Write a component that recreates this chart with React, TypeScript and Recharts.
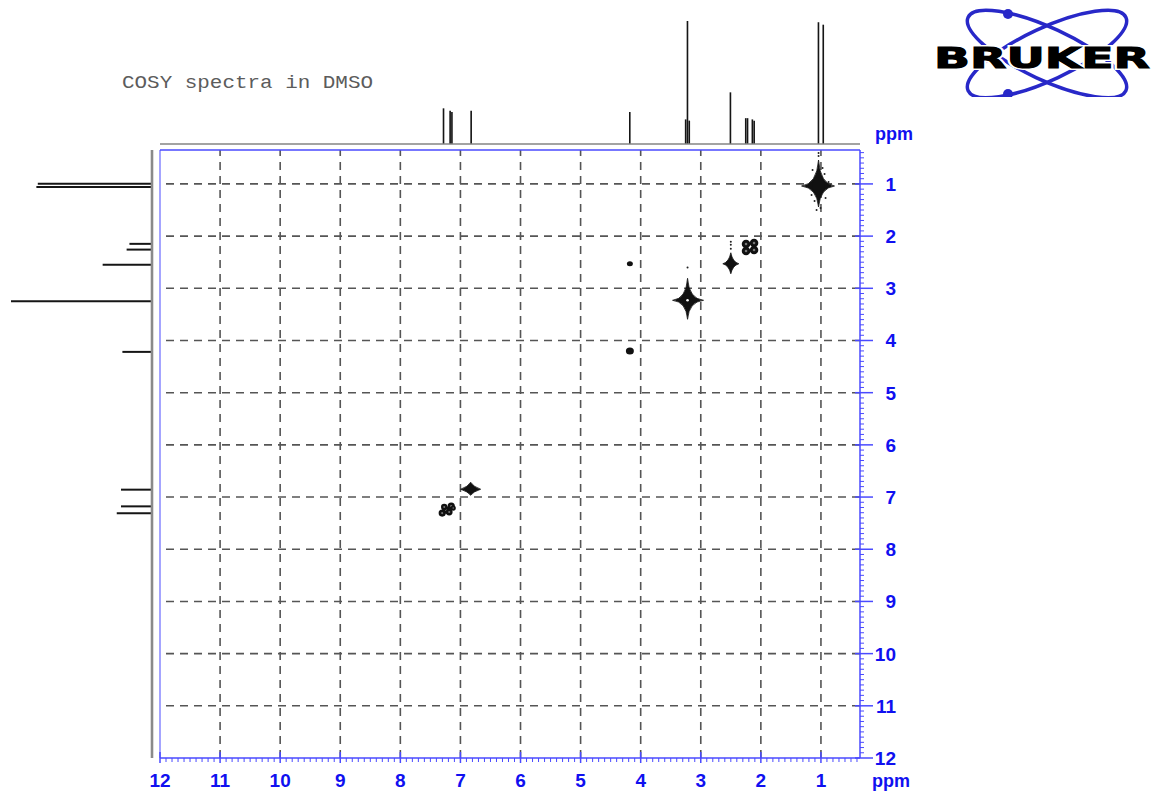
import React from "react";
import {
  ScatterChart,
  Scatter,
  BarChart,
  Bar,
  XAxis,
  YAxis,
  ReferenceLine,
} from "recharts";

// F2 (horizontal) projection: shift in ppm, relative height
const f2Projection = [
  { ppm: 7.28, intensity: 29 },
  { ppm: 7.17, intensity: 27 },
  { ppm: 7.14, intensity: 26 },
  { ppm: 6.82, intensity: 27 },
  { ppm: 4.18, intensity: 26 },
  { ppm: 3.25, intensity: 20 },
  { ppm: 3.22, intensity: 100 },
  { ppm: 3.19, intensity: 19 },
  { ppm: 2.505, intensity: 42 },
  { ppm: 2.25, intensity: 21 },
  { ppm: 2.22, intensity: 21 },
  { ppm: 2.14, intensity: 20 },
  { ppm: 2.11, intensity: 19 },
  { ppm: 1.04, intensity: 99 },
  { ppm: 0.96, intensity: 97 },
];

// F1 (vertical) projection
const f1Projection = [
  { ppm: 0.99, intensity: 81 },
  { ppm: 1.05, intensity: 82 },
  { ppm: 2.14, intensity: 16 },
  { ppm: 2.25, intensity: 18 },
  { ppm: 2.54, intensity: 35 },
  { ppm: 3.24, intensity: 100 },
  { ppm: 4.21, intensity: 21 },
  { ppm: 6.85, intensity: 22 },
  { ppm: 7.17, intensity: 22 },
  { ppm: 7.3, intensity: 25 },
];

// 2D correlation peaks (F2, F1 in ppm)
const crossPeaks = [
  { id: "ch3", f2: 1.04, f1: 1.04 },
  { id: "ch2", f2: 2.18, f1: 2.21 },
  { id: "dmso", f2: 2.5, f1: 2.53 },
  { id: "water", f2: 3.22, f1: 3.23 },
  { id: "cross", f2: 4.18, f1: 2.53 },
  { id: "oh", f2: 4.18, f1: 4.2 },
  { id: "speck", f2: 3.22, f1: 2.6 },
  { id: "ar1", f2: 6.83, f1: 6.85 },
  { id: "ar2", f2: 7.22, f1: 7.23 },
];

const ppmLabels = [1, 2, 3, 4, 5, 6, 7, 8, 9, 10, 11, 12];
const gridPpm = [1, 2, 3, 4, 5, 6, 7, 8, 9, 10, 11];

const DOMAIN: [number, number] = [0.35, 12];
// 0.1 ppm scale marks
const scaleTicks = Array.from({ length: 117 }, (_, i) => (i + 4) / 10);

const AXIS_BLUE = "#4a4aff";
const LABEL_BLUE = "#1010f0";
const GRID = "#555";
const SANS = "'Liberation Sans', Arial, sans-serif";

const isMajor = (v: number) => Math.abs(v - Math.round(v)) < 1e-6 && ppmLabels.includes(Math.round(v));

const BottomTick = ({ x, y, payload }: any) => {
  const v = payload.value;
  if (!isMajor(v)) {
    return <line x1={x} y1={y} x2={x} y2={y + 4} stroke={AXIS_BLUE} strokeWidth={1} />;
  }
  return (
    <g>
      <line x1={x} y1={y - 6} x2={x} y2={y + 5} stroke={AXIS_BLUE} strokeWidth={1.5} />
      <text x={x} y={y + 29} textAnchor="middle" fill={LABEL_BLUE} fontFamily={SANS} fontWeight="bold" fontSize={19}>
        {Math.round(v)}
      </text>
    </g>
  );
};

const RightTick = ({ x, y, payload }: any) => {
  const v = payload.value;
  if (!isMajor(v)) {
    return <line x1={x} y1={y} x2={x + 4} y2={y} stroke={AXIS_BLUE} strokeWidth={1} />;
  }
  return (
    <g>
      <line x1={x - 5} y1={y} x2={x + 13} y2={y} stroke={AXIS_BLUE} strokeWidth={1.5} />
      <text x={x + 36} y={y + 7} textAnchor="end" fill={LABEL_BLUE} fontFamily={SANS} fontWeight="bold" fontSize={19}>
        {Math.round(v)}
      </text>
    </g>
  );
};

// four-pointed contour star: left, right, up, down arm lengths, waist
const starPath = (cx: number, cy: number, l: number, r: number, u: number, d: number, c: number) =>
  `M${cx - l},${cy} Q${cx - c},${cy - c} ${cx},${cy - u} Q${cx + c},${cy - c} ${cx + r},${cy} ` +
  `Q${cx + c},${cy + c} ${cx},${cy + d} Q${cx - c},${cy + c} ${cx - l},${cy} Z`;

type Look = {
  star?: [number, number, number, number, number];
  core?: [number, number];
  blobs?: [number, number, number][];
  specks?: [number, number][];
  hole?: number;
};

const peakLooks: Record<string, Look> = {
  ch3: {
    star: [17, 16, 26, 21, 1.8],
    core: [6, 9],
    specks: [[0, -33], [0, -30], [-6, -16], [6, -12], [-7, 9], [7, 12], [-2, 24], [2, 22], [10, -4], [-4, 15], [4, -18]],
  },
  ch2: { blobs: [[-4, -3, 4.3], [4, -4, 4.3], [-4, 4, 4.3], [4, 3, 4.3]] },
  dmso: { star: [8, 8, 11, 10, 1.8], core: [3, 3], specks: [[0, -15], [0, -19], [0, -22]] },
  water: { star: [15, 16, 22, 19, 1.4], core: [2.5, 3], hole: 1.3 },
  cross: { core: [3, 2.5] },
  oh: { core: [4, 3.5] },
  speck: { specks: [[0, 0]] },
  ar1: { star: [10, 10, 7, 6, 2.5], core: [4.5, 3.5] },
  ar2: { blobs: [[-5, 4, 3.6], [-1, 1, 3.8], [4, -3, 3.6], [-3, -2, 3.2], [2, 3, 3.4], [6, -1, 2.6]] },
};

const renderPeak = (props: any) => {
  const { cx, cy, payload } = props;
  const look = peakLooks[payload.id];
  if (!look || cx == null || cy == null) return <g />;
  return (
    <g>
      {look.star && (
        <path d={starPath(cx, cy, ...look.star)} fill="#111" stroke="#111" strokeWidth={0.8} />
      )}
      {look.core && <ellipse cx={cx} cy={cy} rx={look.core[0]} ry={look.core[1]} fill="#111" />}
      {look.hole && <circle cx={cx} cy={cy} r={look.hole} fill="#fff" />}
      {look.blobs &&
        look.blobs.map(([dx, dy, r], i) => (
          <g key={i}>
            <circle cx={cx + dx} cy={cy + dy} r={r} fill="#111" />
            <circle cx={cx + dx} cy={cy + dy} r={r * 0.3} fill="#777" />
          </g>
        ))}
      {look.specks &&
        look.specks.map(([dx, dy], i) => <circle key={i} cx={cx + dx} cy={cy + dy} r={1} fill="#222" />)}
    </g>
  );
};

const abs = (left: number, top: number): React.CSSProperties => ({ position: "absolute", left, top });

export default function App() {
  return (
    <div style={{ position: "absolute", left: 0, top: 0, width: 1155, height: 791, background: "#fff", overflow: "hidden" }}>
      {/* F2 projection above the map */}
      <div style={abs(0, 0)}>
        <BarChart width={1155} height={150} data={f2Projection} margin={{ top: 21, right: 295, bottom: 6, left: 160 }}>
          <XAxis type="number" dataKey="ppm" domain={DOMAIN} reversed hide allowDataOverflow />
          <YAxis type="number" domain={[0, 100]} hide allowDataOverflow />
          <ReferenceLine y={0} stroke="#858585" strokeWidth={1.6} ifOverflow="visible" />
          <Bar dataKey="intensity" fill="#151515" barSize={2} isAnimationActive={false} />
        </BarChart>
      </div>

      {/* F1 projection to the left (vertical layout already runs top-down) */}
      <div style={abs(0, 0)}>
        <BarChart
          layout="vertical"
          width={160}
          height={791}
          data={f1Projection}
          margin={{ top: 150, right: 8, bottom: 33, left: 11 }}
        >
          <XAxis type="number" domain={[0, 100]} reversed hide allowDataOverflow />
          <YAxis type="number" dataKey="ppm" domain={DOMAIN} hide allowDataOverflow />
          <ReferenceLine x={0} stroke="#8a8a8a" strokeWidth={2.6} ifOverflow="visible" />
          <Bar dataKey="intensity" fill="#151515" barSize={2} isAnimationActive={false} />
        </BarChart>
      </div>

      {/* COSY map */}
      <div style={abs(0, 0)}>
        <ScatterChart width={1155} height={791} margin={{ top: 150, right: 235, bottom: 0, left: 160 }}>
          <XAxis
            type="number"
            dataKey="f2"
            domain={DOMAIN}
            reversed
            allowDataOverflow
            ticks={scaleTicks}
            interval={0}
            tickSize={0}
            tickMargin={0}
            tickLine={false}
            height={33}
            axisLine={{ stroke: AXIS_BLUE, strokeWidth: 1.5 }}
            tick={(p: any) => <BottomTick {...p} />}
          />
          <YAxis
            type="number"
            dataKey="f1"
            orientation="right"
            domain={DOMAIN}
            reversed
            allowDataOverflow
            ticks={scaleTicks}
            interval={0}
            tickSize={0}
            tickMargin={0}
            tickLine={false}
            width={60}
            axisLine={{ stroke: AXIS_BLUE, strokeWidth: 1.5 }}
            tick={(p: any) => <RightTick {...p} />}
          />
          {gridPpm.map((v) => (
            <ReferenceLine key={`gx${v}`} x={v} stroke={GRID} strokeWidth={1.6} strokeDasharray="8 6" />
          ))}
          {gridPpm.map((v) => (
            <ReferenceLine key={`gy${v}`} y={v} stroke={GRID} strokeWidth={1.6} strokeDasharray="8 6" />
          ))}
          <ReferenceLine x={12} stroke="#a4a4ff" strokeWidth={2} ifOverflow="visible" />
          <ReferenceLine y={0.35} stroke={AXIS_BLUE} strokeWidth={1.5} ifOverflow="visible" />
          <Scatter data={crossPeaks} shape={renderPeak} isAnimationActive={false} />
        </ScatterChart>
      </div>

      {/* title, axis units and logo */}
      <svg width={1155} height={791} style={{ ...abs(0, 0), pointerEvents: "none" }}>
        <defs>
          <clipPath id="logoClip">
            <rect x={900} y={0} width={255} height={97} />
          </clipPath>
        </defs>
        <text
          x={122}
          y={88}
          fontFamily="'Liberation Mono', monospace"
          fontSize={19}
          fill="#5c5c5c"
          textLength={251}
          lengthAdjust="spacingAndGlyphs"
        >
          COSY spectra in DMSO
        </text>
        <text x={894} y={140} textAnchor="middle" fill={LABEL_BLUE} fontFamily={SANS} fontWeight="bold" fontSize={18}>
          ppm
        </text>
        <text x={891} y={787} textAnchor="middle" fill={LABEL_BLUE} fontFamily={SANS} fontWeight="bold" fontSize={18}>
          ppm
        </text>
        <g clipPath="url(#logoClip)">
          <ellipse cx={1047} cy={54} rx={87} ry={26} transform="rotate(25 1047 54)" fill="none" stroke="#2828c8" strokeWidth={3.5} />
          <ellipse cx={1047} cy={54} rx={87} ry={26} transform="rotate(-25 1047 54)" fill="none" stroke="#2828c8" strokeWidth={3.5} />
          <circle cx={1008} cy={14} r={5} fill="#2828c8" />
          <circle cx={1008} cy={94} r={5} fill="#2828c8" />
        </g>
        <text
          x={934}
          y={68}
          fontFamily="'DejaVu Sans', sans-serif"
          fontWeight="bold"
          fontSize={28}
          fill="#000"
          stroke="#fff"
          strokeWidth={4}
          paintOrder="stroke"
          textLength={216}
          lengthAdjust="spacingAndGlyphs"
        >
          BRUKER
        </text>
        <text
          x={934}
          y={68}
          fontFamily="'DejaVu Sans', sans-serif"
          fontWeight="bold"
          fontSize={28}
          fill="#000"
          stroke="#000"
          strokeWidth={1}
          textLength={216}
          lengthAdjust="spacingAndGlyphs"
        >
          BRUKER
        </text>
      </svg>
    </div>
  );
}
